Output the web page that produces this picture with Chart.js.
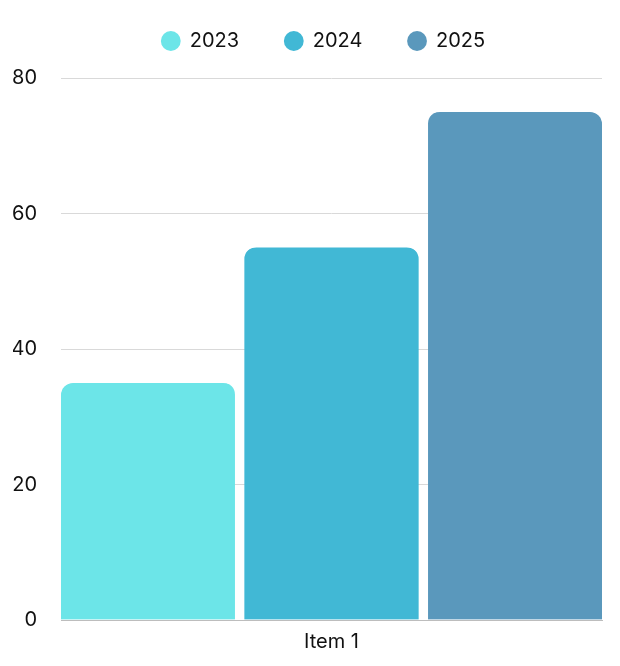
<!DOCTYPE html>
<html>
<head>
<meta charset="utf-8">
<script src="https://cdn.jsdelivr.net/npm/chart.js@4"></script>
<style>
  html, body { margin: 0; padding: 0; background: #fff; }
  #wrap { width: 620px; height: 666px; }
</style>
</head>
<body>
<div id="wrap"><canvas id="chart"></canvas></div>
<script>
// chart data
const categories = ["Item 1"];
const seriesNames = ["2023", "2024", "2025"];
const values2023 = [35];
const values2024 = [55];
const values2025 = [75];
const yTicks = [0, 20, 40, 60, 80];

const colors = ["#6ce5e8", "#41b8d5", "#5a98bc"];
const gap = 6.7; // space between bars, split over transparent borders
const radius = 12;

Chart.defaults.font.family = "Inter, 'Open Sans', sans-serif";
Chart.defaults.color = "#111";

// legend tweaks: more room below it, and centre it a bit further right
const legendTweak = {
  id: "legendTweak",
  beforeInit(chart) {
    const fit = chart.legend.fit;
    chart.legend.fit = function () {
      fit.bind(chart.legend)();
      this.height += 17;
    };
  },
  afterLayout(chart) {
    chart.legend.left += 32;
  },
};

const ctx = document.getElementById("chart");
new Chart(ctx, {
  type: "bar",
  data: {
    labels: categories,
    datasets: [
      {
        label: seriesNames[0],
        data: values2023,
        backgroundColor: colors[0],
        borderWidth: { right: gap, left: 0, top: 0, bottom: 0 },
        borderRadius: { topLeft: radius, topRight: radius + gap, bottomLeft: 0, bottomRight: 0 },
      },
      {
        label: seriesNames[1],
        data: values2024,
        backgroundColor: colors[1],
        borderWidth: { right: gap / 2, left: gap / 2, top: 0, bottom: 0 },
        borderRadius: { topLeft: radius + gap / 2, topRight: radius + gap / 2, bottomLeft: 0, bottomRight: 0 },
      },
      {
        label: seriesNames[2],
        data: values2025,
        backgroundColor: colors[2],
        borderWidth: { right: 0, left: gap, top: 0, bottom: 0 },
        borderRadius: { topLeft: radius + gap, topRight: radius, bottomLeft: 0, bottomRight: 0 },
      },
    ],
  },
  options: {
    responsive: true,
    maintainAspectRatio: false,
    animation: false,
    layout: { padding: { left: 13, right: 18, top: 1, bottom: 10 } },
    datasets: {
      bar: {
        barPercentage: 1,
        categoryPercentage: 1,
        borderColor: "rgba(0,0,0,0)",
        borderSkipped: false,
      },
    },
    plugins: {
      legend: {
        position: "top",
        labels: {
          usePointStyle: true,
          pointStyle: "circle",
          boxWidth: 18,
          boxHeight: 14,
          padding: 30,
          font: { size: 20 },
          color: "#111",
          generateLabels(chart) {
            const items = Chart.defaults.plugins.legend.labels.generateLabels(chart);
            // widen the first items so the spacing matches
            items.forEach((it, i) => {
              if (i < items.length - 1) it.text = it.text + "\u2002 ";
            });
            return items;
          },
        },
      },
      tooltip: { enabled: false },
    },
    scales: {
      x: {
        grid: { display: false },
        border: { display: true, color: "#bdbdbd" },
        ticks: { font: { size: 20 }, padding: 2, color: "#111" },
      },
      y: {
        min: 0,
        max: 80,
        afterBuildTicks: (axis) => {
          axis.ticks = yTicks.map((v) => ({ value: v }));
        },
        afterFit: (axis) => {
          axis.width = 48;
        },
        grid: { color: "#d9d9d9", drawTicks: false },
        border: { display: false },
        ticks: { font: { size: 20 }, padding: 24, color: "#111" },
      },
    },
  },
  plugins: [legendTweak],
});
</script>
</body>
</html>
